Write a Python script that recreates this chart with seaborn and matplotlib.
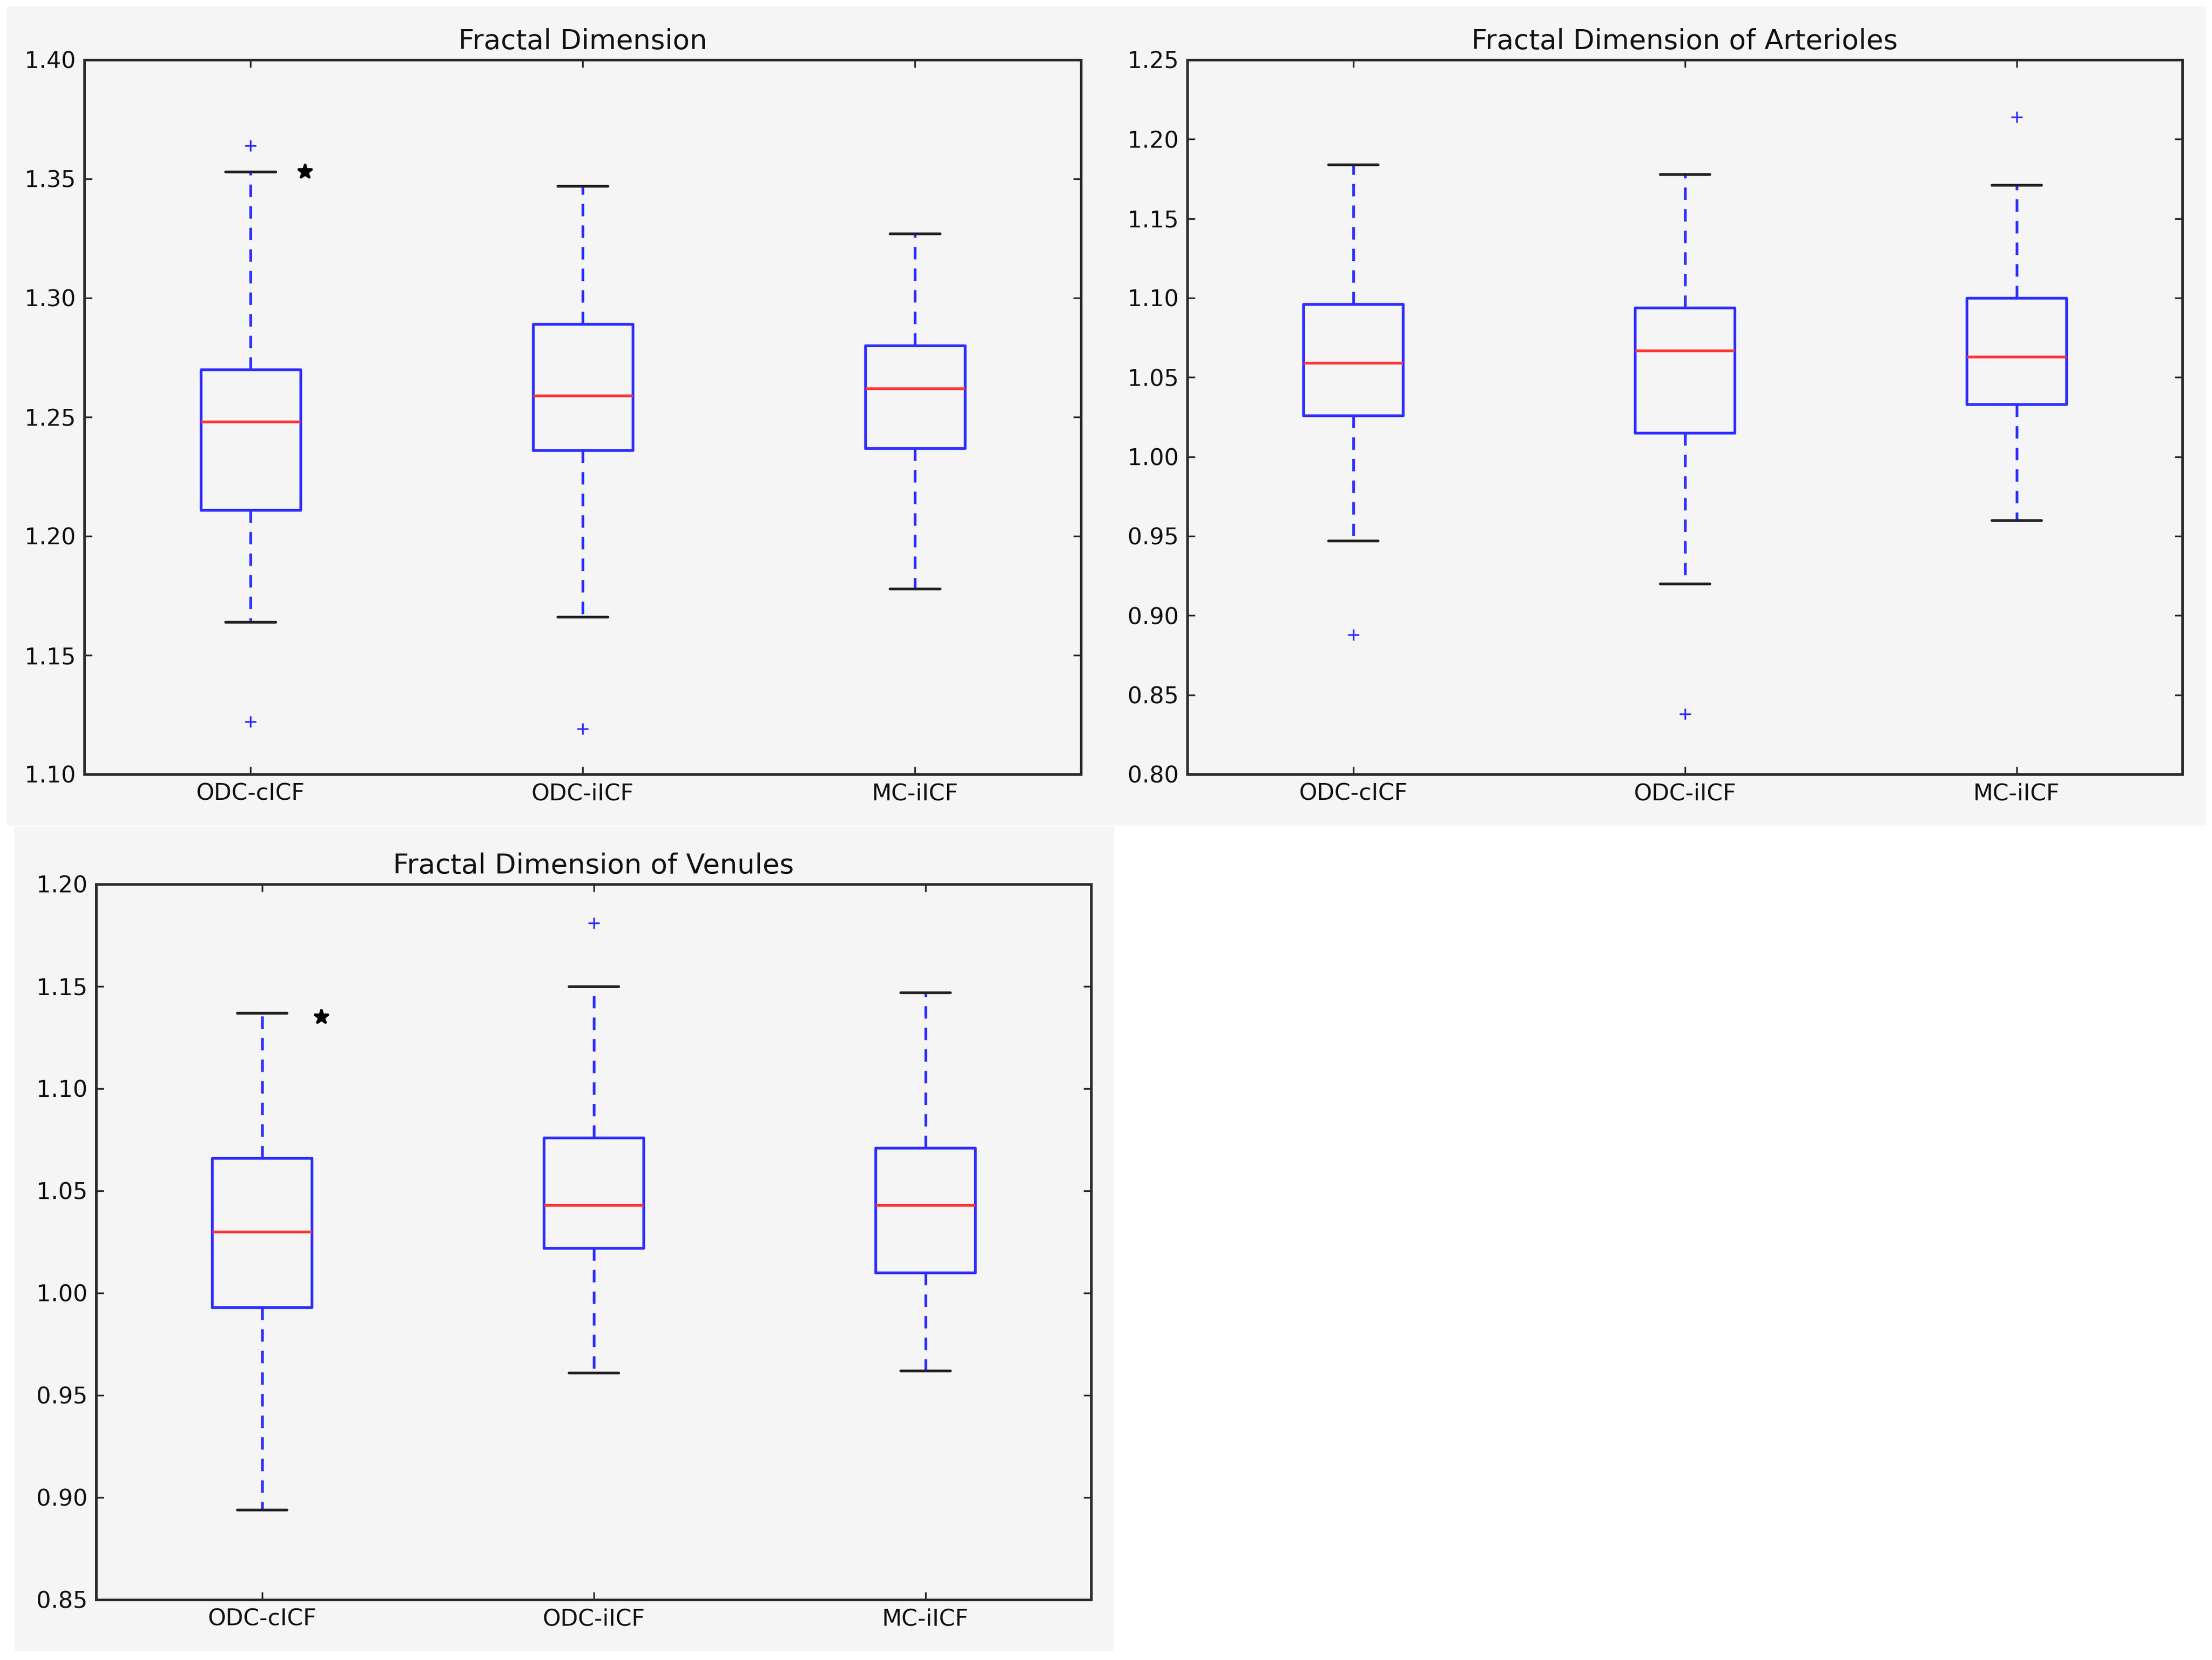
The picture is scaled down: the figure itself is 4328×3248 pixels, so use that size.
import numpy as np
import pandas as pd
import matplotlib
matplotlib.use("Agg")
import matplotlib.pyplot as plt
from matplotlib.patches import Rectangle
import seaborn as sns

# ---------------- data ----------------
groups = ["ODC-cICF", "ODC-iICF", "MC-iICF"]

# Fractal Dimension
fd_whislo = [1.164, 1.166, 1.178]
fd_q1     = [1.211, 1.236, 1.237]
fd_med    = [1.248, 1.259, 1.262]
fd_q3     = [1.270, 1.289, 1.280]
fd_whishi = [1.353, 1.347, 1.327]
fd_flier_lo = [1.122, 1.119, None]
fd_flier_hi = [1.364, None, None]
fd_yticks = [1.10, 1.15, 1.20, 1.25, 1.30, 1.35, 1.40]
fd_star = (0, 1.353)

# Fractal Dimension of Arterioles
ar_whislo = [0.947, 0.920, 0.960]
ar_q1     = [1.026, 1.015, 1.033]
ar_med    = [1.059, 1.067, 1.063]
ar_q3     = [1.096, 1.094, 1.100]
ar_whishi = [1.184, 1.178, 1.171]
ar_flier_lo = [0.888, 0.838, None]
ar_flier_hi = [None, None, 1.214]
ar_yticks = [0.80, 0.85, 0.90, 0.95, 1.00, 1.05, 1.10, 1.15, 1.20, 1.25]

# Fractal Dimension of Venules
ve_whislo = [0.894, 0.961, 0.962]
ve_q1     = [0.993, 1.022, 1.010]
ve_med    = [1.030, 1.043, 1.043]
ve_q3     = [1.066, 1.076, 1.071]
ve_whishi = [1.137, 1.150, 1.147]
ve_flier_lo = [None, None, None]
ve_flier_hi = [None, 1.181, None]
ve_yticks = [0.85, 0.90, 0.95, 1.00, 1.05, 1.10, 1.15, 1.20]
ve_star = (0, 1.135)


def build_table(whislo, q1, med, q3, whishi, flo, fhi):
    """Nine-value sample per group whose quartiles/whiskers/fliers equal the read summary."""
    rows = []
    for i, g in enumerate(groups):
        lo = flo[i] if flo[i] is not None else whislo[i]
        hi = fhi[i] if fhi[i] is not None else whishi[i]
        vals = [lo, whislo[i], q1[i], med[i], med[i], med[i], q3[i], whishi[i], hi]
        rows += [(g, v) for v in vals]
    return pd.DataFrame(rows, columns=["group", "value"])


fd_df = build_table(fd_whislo, fd_q1, fd_med, fd_q3, fd_whishi, fd_flier_lo, fd_flier_hi)
ar_df = build_table(ar_whislo, ar_q1, ar_med, ar_q3, ar_whishi, ar_flier_lo, ar_flier_hi)
ve_df = build_table(ve_whislo, ve_q1, ve_med, ve_q3, ve_whishi, ve_flier_lo, ve_flier_hi)

# ---------------- style ----------------
sns.set_theme(style="ticks")
plt.rcParams["font.family"] = ["DejaVu Sans"]
BG = "#f5f5f5"
SPINE = "#2a2a2a"
BLUE = "#2e2eff"
RED = "#ff3535"
CAP = "#222222"

W, H, DPI = 4328, 3248, 300
fig = plt.figure(figsize=(W / DPI, H / DPI), dpi=DPI, facecolor="white")


def fx(px):
    return px / W


def fy(py):
    return 1 - py / H


# gray panel backgrounds (behind the axes)
fig.patches.append(Rectangle((fx(13), fy(1615)), fx(4316 - 13), (1615 - 13) / H,
                             transform=fig.transFigure, facecolor=BG, edgecolor="none", zorder=-10))
fig.patches.append(Rectangle((fx(28), fy(3231)), fx(2180 - 28), (3231 - 1617) / H,
                             transform=fig.transFigure, facecolor=BG, edgecolor="none", zorder=-10))

LW = 1.3
box_kw = dict(
    x="group", y="value", order=groups, width=0.3, whis=1.5, fill=False,
    color=BLUE, linewidth=LW,
    boxprops=dict(color=BLUE, linewidth=LW),
    medianprops=dict(color=RED, linewidth=LW),
    whiskerprops=dict(color=BLUE, linewidth=LW, linestyle=(0, (4.5, 3.3))),
    capprops=dict(color=CAP, linewidth=LW),
    flierprops=dict(marker="+", markeredgecolor=BLUE, markerfacecolor=BLUE,
                    markersize=5.5, markeredgewidth=0.8, linestyle="none"),
)


def make_axes(left, top, right, bottom):
    ax = fig.add_axes([fx(left), fy(bottom), fx(right - left), (bottom - top) / H])
    ax.set_facecolor(BG)
    ax.set_zorder(1)
    return ax


def style_axes(ax, title, yticks):
    ax.set_xlim(-0.5, 2.5)
    ax.set_ylim(yticks[0], yticks[-1])
    ax.set_yticks(yticks)
    ax.set_yticklabels([f"{t:.2f}" for t in yticks])
    ax.set_xlabel("")
    ax.set_ylabel("")
    ax.tick_params(direction="in", top=True, right=True, length=3.6, width=0.8,
                   color=SPINE, labelsize=10.8, pad=4, labelcolor="#111111")
    for s in ax.spines.values():
        s.set_visible(True)
        s.set_linewidth(1.2)
        s.set_color(SPINE)
    ax.set_title(title, fontsize=13, pad=5, color="#111111")


ax1 = make_axes(165, 117, 2115, 1515)
sns.boxplot(data=fd_df, ax=ax1, **box_kw)
style_axes(ax1, "Fractal Dimension", fd_yticks)
ax1.plot([fd_star[0] + 0.165], [fd_star[1]], marker="*", color="black",
         markersize=7, linestyle="none")

ax2 = make_axes(2323, 117, 4270, 1515)
sns.boxplot(data=ar_df, ax=ax2, **box_kw)
style_axes(ax2, "Fractal Dimension of Arterioles", ar_yticks)

ax3 = make_axes(188, 1730, 2135, 3130)
sns.boxplot(data=ve_df, ax=ax3, **box_kw)
style_axes(ax3, "Fractal Dimension of Venules", ve_yticks)
ax3.plot([ve_star[0] + 0.18], [ve_star[1]], marker="*", color="black",
         markersize=7, linestyle="none")

fig.savefig("out.png", dpi=DPI, facecolor="white")
